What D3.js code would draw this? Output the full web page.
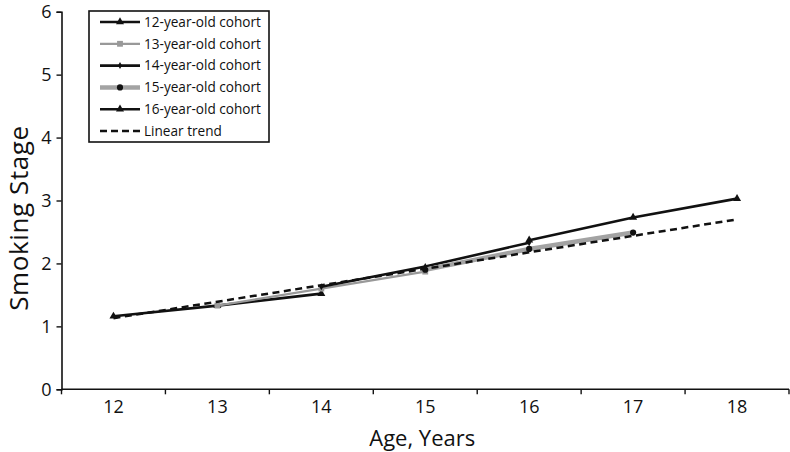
<!DOCTYPE html>
<html>
<head>
<meta charset="utf-8">
<script src="https://cdn.jsdelivr.net/npm/d3@7"></script>
<style>
  html, body { margin: 0; padding: 0; background: #fff; }
  svg { display: block; }
  text { font-family: "Open Sans", "Noto Sans", sans-serif; fill: #111; }
</style>
</head>
<body>
<svg id="chart" width="790" height="452"></svg>
<script>
// ---- data ----
const ages = [12, 13, 14, 15, 16, 17, 18];
const yTicks = [0, 1, 2, 3, 4, 5, 6];
const cohortNames = ["12-year-old cohort", "13-year-old cohort", "14-year-old cohort", "15-year-old cohort", "16-year-old cohort"];
const cohort12 = [[12, 1.16], [13, 1.33], [14, 1.52]];
const cohort13 = [[13, 1.33], [14, 1.60], [15, 1.87]];
const cohort14 = [[14, 1.63], [15, 1.95], [16, 2.33]];
const cohort15 = [[15, 1.90], [16, 2.23], [17, 2.49]];
const cohort16 = [[16, 2.37], [17, 2.73], [18, 3.03]];
const trendName = "Linear trend";
const trendValues = [[12, 1.13], [18, 2.70]];

// ---- styles ----
const styles = [
  { color: "#111", width: 2.6, marker: "triangle", mcolor: "#111", msize: 28 },
  { color: "#999", width: 2.2, marker: "square", mcolor: "#999", msize: 34 },
  { color: "#111", width: 2.6, marker: "diamond", mcolor: "#111", msize: 14 },
  { color: "#a3a3a3", width: 4.5, marker: "circle", mcolor: "#111", msize: 30 },
  { color: "#111", width: 2.6, marker: "triangle", mcolor: "#111", msize: 28 }
];
const cohorts = [cohort12, cohort13, cohort14, cohort15, cohort16];

const svg = d3.select("#chart");
const mLeft = 61.5, mRight = 789, mTop = 11.7, mBottom = 389.3;

const x = d3.scaleBand().domain(ages).range([mLeft, mRight]).padding(0);
const y = d3.scaleLinear().domain([0, 6]).range([mBottom, mTop]);
const cx = d => x(d) + x.bandwidth() / 2;

// Y axis
const yAxis = svg.append("g").attr("transform", `translate(${mLeft},0)`)
  .call(d3.axisLeft(y).tickValues(yTicks).tickSize(5).tickPadding(5).tickFormat(d3.format("d")));
yAxis.select(".domain").attr("stroke", "#111").attr("stroke-width", 1.6);
yAxis.selectAll(".tick line").attr("stroke", "#111").attr("stroke-width", 1.4);
yAxis.selectAll(".tick text").style("font-size", "18px").style("font-family", "'Open Sans', sans-serif").attr("fill", "#111");

// X axis
const xAxis = svg.append("g").attr("transform", `translate(0,${mBottom})`)
  .call(d3.axisBottom(x).tickSize(0).tickPadding(11));
xAxis.select(".domain").attr("d", `M${mLeft},0H${mRight}`).attr("stroke", "#111").attr("stroke-width", 1.6);
xAxis.selectAll(".tick text").style("font-size", "18px").style("font-family", "'Open Sans', sans-serif").attr("fill", "#111");
const boundaries = ages.map(a => x(a)).concat([x(ages[ages.length - 1]) + x.bandwidth()]);
xAxis.selectAll("line.bt").data(boundaries).enter().append("line")
  .attr("class", "bt")
  .attr("x1", d => Math.min(d, 789)).attr("x2", d => Math.min(d, 789))
  .attr("y1", 0).attr("y2", 5)
  .attr("stroke", "#111").attr("stroke-width", 1.4);

// Axis titles
svg.append("text")
  .attr("transform", `translate(28,218) rotate(-90)`)
  .attr("text-anchor", "middle")
  .style("font-size", "26px")
  .style("letter-spacing", "0.6px")
  .text("Smoking Stage");
svg.append("text")
  .attr("x", (mLeft + mRight) / 2 - 3)
  .attr("y", 446)
  .attr("text-anchor", "middle")
  .style("font-size", "22px")
  .text("Age, Years");

// markers
function symbolFor(m) {
  return m === "triangle" ? d3.symbolTriangle : m === "square" ? d3.symbolSquare : m === "circle" ? d3.symbolCircle : d3.symbolDiamond;
}

const line = d3.line().x(d => cx(d[0])).y(d => y(d[1]));

cohorts.forEach((data, i) => {
  const s = styles[i];
  const g = svg.append("g");
  g.append("path").attr("d", line(data)).attr("fill", "none")
    .attr("stroke", s.color).attr("stroke-width", s.width).attr("stroke-linejoin", "round");
  g.selectAll("path.m").data(data).enter().append("path")
    .attr("class", "m")
    .attr("transform", d => `translate(${cx(d[0])},${y(d[1])})`)
    .attr("d", d3.symbol().type(symbolFor(s.marker)).size(s.msize))
    .attr("fill", s.mcolor);
});

// trend
svg.append("path").attr("d", line(trendValues)).attr("fill", "none")
  .attr("stroke", "#111").attr("stroke-width", 2.5).attr("stroke-dasharray", "7,4.5");

// Legend
const lg = svg.append("g");
const lx = 89, ly = 11, lw = 180, lh = 131;
lg.append("rect").attr("x", lx).attr("y", ly).attr("width", lw).attr("height", lh)
  .attr("fill", "#fff").attr("stroke", "#111").attr("stroke-width", 1.6);
const rowY = i => 22 + i * 21.8;
cohortNames.forEach((name, i) => {
  const s = styles[i];
  lg.append("line").attr("x1", 100).attr("x2", 140).attr("y1", rowY(i)).attr("y2", rowY(i))
    .attr("stroke", s.color).attr("stroke-width", s.width);
  lg.append("path").attr("transform", `translate(120,${rowY(i)})`)
    .attr("d", d3.symbol().type(symbolFor(s.marker)).size(s.msize)).attr("fill", s.mcolor);
  lg.append("text").attr("x", 144).attr("y", rowY(i)).attr("dy", "0.35em")
    .style("font-size", "13.6px").text(name);
});
lg.append("line").attr("x1", 100).attr("x2", 140).attr("y1", rowY(5)).attr("y2", rowY(5))
  .attr("stroke", "#111").attr("stroke-width", 2.5).attr("stroke-dasharray", "7,4");
lg.append("text").attr("x", 144).attr("y", rowY(5)).attr("dy", "0.35em")
  .style("font-size", "13.6px").text(trendName);
</script>
</body>
</html>
